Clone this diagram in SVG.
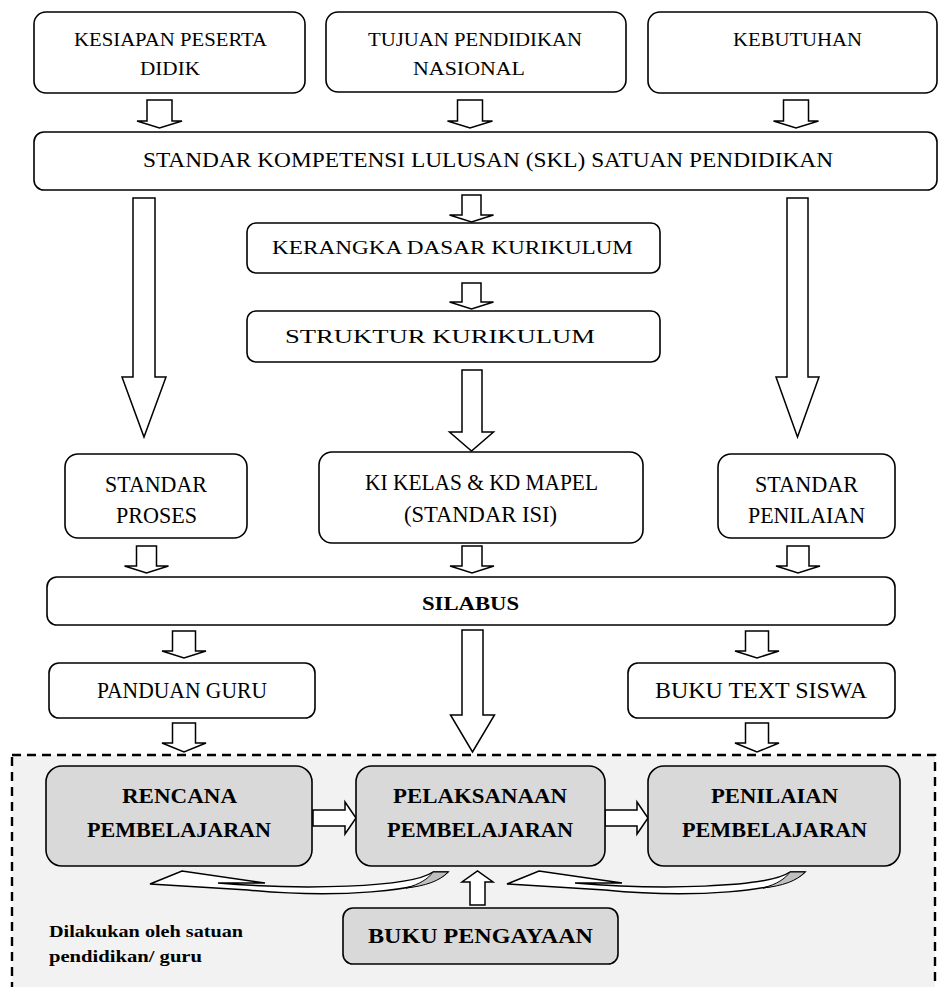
<svg xmlns="http://www.w3.org/2000/svg" xmlns:xlink="http://www.w3.org/1999/xlink" width="939" height="987" viewBox="0 0 939 987">
<style>
.box{fill:#fff;stroke:#000;stroke-width:1.6}
.gbox{fill:#d9d9d9;stroke:#000;stroke-width:1.6}
.arr{fill:#fff;stroke:#000;stroke-width:1.5;stroke-linejoin:miter}
.t{font-family:"Liberation Serif",serif;text-anchor:middle;fill:#000}
.top{font-size:18.5px}
.mid{font-size:23px}
.bt{font-size:20px;font-weight:bold}
.note{font-family:"Liberation Serif",serif;font-size:17px;font-weight:bold;fill:#000}
.zone{fill:#f2f2f2;stroke:#000;stroke-width:2.4;stroke-dasharray:9 6}
</style>
<defs>
<g id="curve">
<path class="arr" d="M150,884 L182,871 L265,883 L218,883 C300,890 410,888 433,872 L448,872 C428,893 330,898 248,890 Z"/>
<path d="M433,872 L448,872 C440,881 425,886 406,888 C420,884 428,879 433,872 Z" fill="#bfbfbf" stroke="#000" stroke-width="1"/>
</g>
</defs>
<rect class="zone" x="12" y="755" width="923" height="260"/>
<g id="connectors">
<path class="arr" d="M147,100 H172 V121 H182 L159.5,128 L137,121 H147 Z"/>
<path class="arr" d="M457.5,100 H482.5 V121 H492.5 L470,128 L447.5,121 H457.5 Z"/>
<path class="arr" d="M783.5,100 H808.5 V121 H818.5 L796,128 L773.5,121 H783.5 Z"/>
<path class="arr" d="M462,195 H481 V215 H493.5 L471.5,222 L449.5,215 H462 Z"/>
<path class="arr" d="M462,283 H481 V302 H493.5 L471.5,309 L449.5,302 H462 Z"/>
<path class="arr" d="M462,370 H482 V432 H493.5 L471.5,451 L449.5,432 H462 Z"/>
<path class="arr" d="M133,198 H155 V377 H166 L144,437 L122,377 H133 Z"/>
<path class="arr" d="M787,198 H808 V377 H819 L797.5,437 L776,377 H787 Z"/>
<path class="arr" d="M136.5,546 H156.5 V566 H168.5 L146.5,573 L124.5,566 H136.5 Z"/>
<path class="arr" d="M462,546 H482 V566 H494 L472,573 L450,566 H462 Z"/>
<path class="arr" d="M787,546 H809 V566 H820 L798,573 L776,566 H787 Z"/>
<path class="arr" d="M172.5,631 H195.5 V651 H206 L184,658 L162,651 H172.5 Z"/>
<path class="arr" d="M745.5,631 H768.5 V651 H779 L757,658 L735,651 H745.5 Z"/>
<path class="arr" d="M172.5,723 H195.5 V743 H206 L184,752 L162,743 H172.5 Z"/>
<path class="arr" d="M745.5,723 H768.5 V743 H779 L757,752 L735,743 H745.5 Z"/>
<path class="arr" d="M462,630 H483 V715 H494.5 L472.5,752 L450.5,715 H462 Z"/>
<path class="arr" d="M313,810 H345 V802 L356,818 L345,834 V826 H313 Z"/>
<path class="arr" d="M605,810 H637 V802 L648,818 L637,834 V826 H605 Z"/>
<path class="arr" d="M470,905 V882 H462 L477.5,871 L493,882 H485 V905 Z"/>
<use xlink:href="#curve"/>
<use xlink:href="#curve" transform="translate(357,0)"/>
</g>
<g id="kesiapan">
<rect class="box" x="34" y="12" width="271" height="81" rx="12"/>
<text class="t top" x="170.5" y="46" textLength="193" lengthAdjust="spacingAndGlyphs">KESIAPAN PESERTA</text>
<text class="t top" x="170" y="75" textLength="60" lengthAdjust="spacingAndGlyphs">DIDIK</text>
</g>
<g id="tujuan">
<rect class="box" x="326" y="12" width="300" height="80" rx="12"/>
<text class="t top" x="475" y="46" textLength="214" lengthAdjust="spacingAndGlyphs">TUJUAN PENDIDIKAN</text>
<text class="t top" x="469" y="75" textLength="112" lengthAdjust="spacingAndGlyphs">NASIONAL</text>
</g>
<g id="kebutuhan">
<rect class="box" x="648" y="12" width="289" height="81" rx="12"/>
<text class="t top" x="797.5" y="46" textLength="129" lengthAdjust="spacingAndGlyphs">KEBUTUHAN</text>
</g>
<g id="skl">
<rect class="box" x="34" y="132" width="903" height="58" rx="10"/>
<text class="t" style="font-size:21px" x="488" y="167" textLength="690" lengthAdjust="spacingAndGlyphs">STANDAR KOMPETENSI LULUSAN (SKL) SATUAN PENDIDIKAN</text>
</g>
<g id="kerangka">
<rect class="box" x="247" y="223" width="413" height="50" rx="9"/>
<text class="t" style="font-size:18px" x="452.5" y="254" textLength="361" lengthAdjust="spacingAndGlyphs">KERANGKA DASAR KURIKULUM</text>
</g>
<g id="struktur">
<rect class="box" x="247" y="311" width="413" height="51" rx="9"/>
<text class="t" style="font-size:18px" x="440" y="343" textLength="310" lengthAdjust="spacingAndGlyphs">STRUKTUR KURIKULUM</text>
</g>
<g id="proses">
<rect class="box" x="65" y="454" width="182" height="84" rx="13"/>
<text class="t mid" x="156" y="492" textLength="102" lengthAdjust="spacingAndGlyphs">STANDAR</text>
<text class="t mid" x="156.5" y="523" textLength="81" lengthAdjust="spacingAndGlyphs">PROSES</text>
</g>
<g id="isi">
<rect class="box" x="319" y="452" width="324" height="91" rx="13"/>
<text class="t mid" x="481.5" y="490" textLength="233" lengthAdjust="spacingAndGlyphs">KI KELAS &amp; KD MAPEL</text>
<text class="t mid" x="480.5" y="522" textLength="153" lengthAdjust="spacingAndGlyphs">(STANDAR ISI)</text>
</g>
<g id="penilaian">
<rect class="box" x="718" y="454" width="177" height="84" rx="13"/>
<text class="t mid" x="806.5" y="492" textLength="103" lengthAdjust="spacingAndGlyphs">STANDAR</text>
<text class="t mid" x="806.5" y="523" textLength="117" lengthAdjust="spacingAndGlyphs">PENILAIAN</text>
</g>
<g id="silabus">
<rect class="box" x="47" y="577" width="848" height="48" rx="10"/>
<text class="t" style="font-size:19px;font-weight:bold" x="470.5" y="610" textLength="97" lengthAdjust="spacingAndGlyphs">SILABUS</text>
</g>
<g id="panduan">
<rect class="box" x="49" y="663" width="266" height="55" rx="10"/>
<text class="t mid" x="182" y="698" textLength="170" lengthAdjust="spacingAndGlyphs">PANDUAN GURU</text>
</g>
<g id="bukutext">
<rect class="box" x="628" y="663" width="267" height="55" rx="10"/>
<text class="t mid" x="761" y="698" textLength="212" lengthAdjust="spacingAndGlyphs">BUKU TEXT SISWA</text>
</g>
<g id="rencana">
<rect class="gbox" x="46" y="766" width="266" height="100" rx="16"/>
<text class="t bt" x="179.5" y="803" textLength="115" lengthAdjust="spacingAndGlyphs">RENCANA</text>
<text class="t bt" x="179" y="837" textLength="184" lengthAdjust="spacingAndGlyphs">PEMBELAJARAN</text>
</g>
<g id="pelaksanaan">
<rect class="gbox" x="356" y="766" width="249" height="100" rx="16"/>
<text class="t bt" x="480" y="803" textLength="174" lengthAdjust="spacingAndGlyphs">PELAKSANAAN</text>
<text class="t bt" x="480" y="837" textLength="186" lengthAdjust="spacingAndGlyphs">PEMBELAJARAN</text>
</g>
<g id="penilaianp">
<rect class="gbox" x="648" y="766" width="252" height="100" rx="16"/>
<text class="t bt" x="774.5" y="803" textLength="127" lengthAdjust="spacingAndGlyphs">PENILAIAN</text>
<text class="t bt" x="774.5" y="837" textLength="185" lengthAdjust="spacingAndGlyphs">PEMBELAJARAN</text>
</g>
<g id="pengayaan">
<rect class="gbox" x="343" y="908" width="275" height="56" rx="10"/>
<text class="t bt" x="480.5" y="943" textLength="225" lengthAdjust="spacingAndGlyphs">BUKU PENGAYAAN</text>
</g>
<g id="note">
<text class="note" x="49" y="937" textLength="194" lengthAdjust="spacingAndGlyphs">Dilakukan oleh satuan</text>
<text class="note" x="49" y="962" textLength="153" lengthAdjust="spacingAndGlyphs">pendidikan/ guru</text>
</g>
</svg>
